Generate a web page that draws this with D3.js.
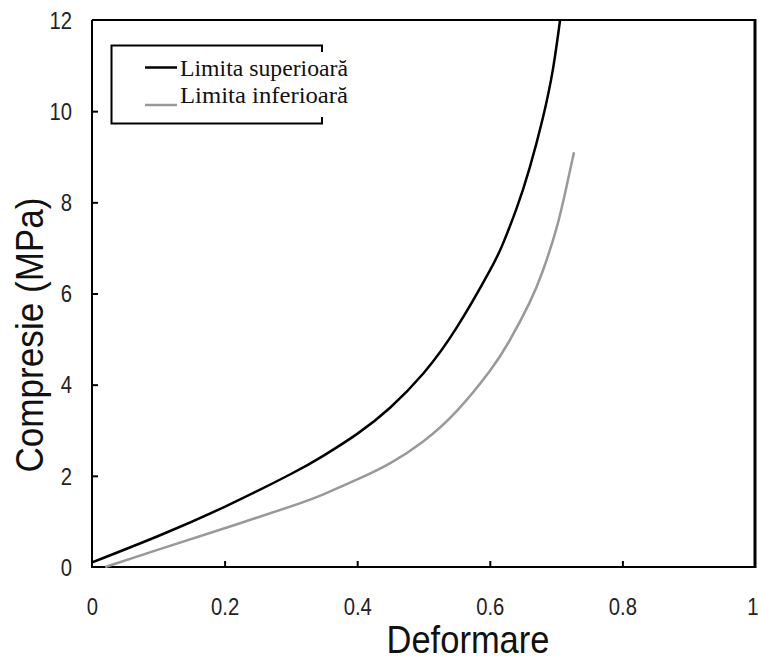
<!DOCTYPE html>
<html lang="ro">
<head>
  <meta charset="UTF-8">
  <title>Compresie vs Deformare</title>
  <script src="https://d3js.org/d3.v7.min.js"></script>
  <style>
    body { margin: 0; background: #fff; }
    .tick text { font-family: Arial, "Liberation Sans", sans-serif; font-size: 23px; fill: #222; }
    .title { font-family: Arial, "Liberation Sans", sans-serif; font-size: 39px; fill: #111; }
    .legend text { font-family: "Liberation Serif", "Times New Roman", serif; font-size: 23px; fill: #111; }
  </style>
</head>
<body>
  <div id="chart"></div>

  <script>
    // Data
    const upperX = [0, 0.1, 0.2, 0.3, 0.35, 0.4, 0.45, 0.5, 0.55, 0.6, 0.62, 0.64, 0.66, 0.68, 0.695, 0.706];
    const upperY = [0.1, 0.68, 1.32, 2.04, 2.45, 2.92, 3.5, 4.25, 5.25, 6.5, 7.1, 7.85, 8.75, 9.85, 10.9, 12];
    const lowerX = [0.02, 0.1, 0.2, 0.3, 0.35, 0.4, 0.45, 0.5, 0.55, 0.6, 0.63, 0.66, 0.68, 0.7, 0.715, 0.727];
    const lowerY = [0, 0.38, 0.85, 1.33, 1.6, 1.92, 2.28, 2.76, 3.42, 4.3, 4.97, 5.8, 6.5, 7.4, 8.3, 9.1];
    const xTicks = [0, 0.2, 0.4, 0.6, 0.8, 1];
    const yTicks = [0, 2, 4, 6, 8, 10, 12];
    const seriesNames = ["Limita superioară", "Limita inferioară"];
    const seriesColors = ["#000", "#999"];

    const width = 759;
    const height = 661;
    const margin = { top: 20, right: 4, bottom: 94, left: 92 };

    const svg = d3.select("#chart")
      .append("svg")
      .attr("width", width)
      .attr("height", height);

    const x = d3.scaleLinear().domain([0, 1]).range([margin.left, width - margin.right]);
    const y = d3.scaleLinear().domain([0, 12]).range([height - margin.bottom, margin.top]);

    // squeeze text a little, the reference font is narrower than Arial
    function squeeze(sel, k) {
      sel.each(function () {
        const w = this.getComputedTextLength();
        d3.select(this).attr("textLength", w * k).attr("lengthAdjust", "spacingAndGlyphs");
      });
    }

    // Axes with inward ticks
    const xAxis = svg.append("g")
      .attr("transform", `translate(0,${y(0)})`)
      .call(d3.axisBottom(x).tickValues(xTicks).tickFormat(d3.format("")).tickSize(-6).tickPadding(0));
    xAxis.selectAll(".tick text").attr("y", 48).attr("dy", 0);
    xAxis.selectAll(".tick").filter(d => d === 0 || d === 1).select("line").remove();
    // keep the last label inside the window
    xAxis.selectAll(".tick").filter(d => d === 1).select("text").attr("text-anchor", "end").attr("x", 3);

    const yAxis = svg.append("g")
      .attr("transform", `translate(${x(0)},0)`)
      .call(d3.axisLeft(y).tickValues(yTicks).tickSize(-6).tickPadding(0));
    yAxis.selectAll(".tick text").attr("x", -20).attr("dy", "0.36em");
    yAxis.selectAll(".tick").filter(d => d === 0 || d === 12).select("line").remove();

    svg.selectAll(".domain").remove();
    svg.selectAll(".tick line").attr("stroke", "#000").attr("stroke-width", 2);
    squeeze(svg.selectAll(".tick text"), 0.88);

    // Plot frame
    svg.append("path")
      .attr("d", `M${x(0)},${y(12)}H${x(1)}M${x(0)},${y(12)}V${y(0)}H${x(1)}`)
      .attr("fill", "none").attr("stroke", "#000").attr("stroke-width", 2);
    svg.append("line")
      .attr("x1", x(1)).attr("x2", x(1)).attr("y1", y(12) - 1).attr("y2", y(0) + 1)
      .attr("stroke", "#000").attr("stroke-width", 3);

    // Curves
    const line = d3.line().x(d => x(d[0])).y(d => y(d[1])).curve(d3.curveNatural);
    const series = [d3.zip(upperX, upperY), d3.zip(lowerX, lowerY)];
    svg.selectAll(".curve")
      .data(series)
      .enter()
      .append("path")
      .attr("class", "curve")
      .attr("d", line)
      .attr("fill", "none")
      .attr("stroke", (d, i) => seriesColors[i])
      .attr("stroke-width", 2.5);

    // Axis titles
    const xt = svg.append("text").attr("class", "title")
      .attr("x", 468).attr("y", 653).attr("text-anchor", "middle").text("Deformare");
    xt.attr("textLength", 163).attr("lengthAdjust", "spacingAndGlyphs");
    const yt = svg.append("text").attr("class", "title")
      .attr("transform", "translate(43,335) rotate(-90)").attr("text-anchor", "middle").text("Compresie (MPa)");
    yt.attr("textLength", 275).attr("lengthAdjust", "spacingAndGlyphs");

    // Legend (box open on its right side)
    const legend = svg.append("g").attr("class", "legend");
    legend.append("path")
      .attr("d", "M322,52V45.5H111.5V123.5H322V117")
      .attr("fill", "none").attr("stroke", "#000").attr("stroke-width", 2);
    const rows = [{ ly: 67.5, ty: 76 }, { ly: 105, ty: 103 }];
    rows.forEach((r, i) => {
      legend.append("line")
        .attr("x1", 145).attr("x2", 177).attr("y1", r.ly).attr("y2", r.ly)
        .attr("stroke", seriesColors[i]).attr("stroke-width", 2.5);
      legend.append("text")
        .attr("x", 180).attr("y", r.ty)
        .attr("textLength", 168).attr("lengthAdjust", "spacingAndGlyphs")
        .text(seriesNames[i]);
    });
  </script>
</body>
</html>
